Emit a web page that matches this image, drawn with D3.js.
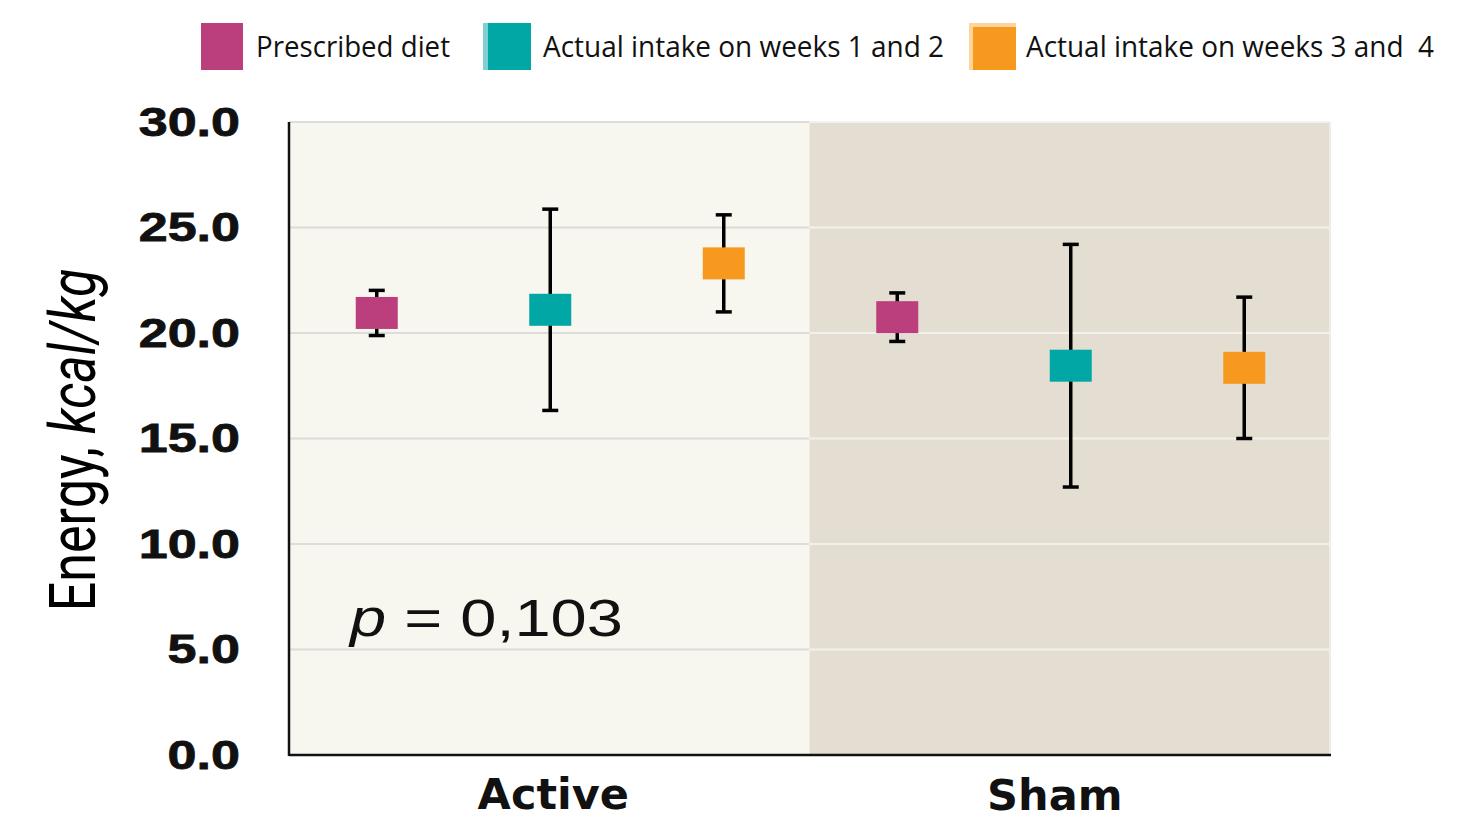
<!DOCTYPE html>
<html>
<head>
<meta charset="utf-8">
<script src="https://cdn.jsdelivr.net/npm/d3@7"></script>
<style>
  body { margin: 0; background: #fff; }
  svg { display: block; }
</style>
</head>
<body>
<div id="chart"></div>
<script>
// data
var groups = ["Active", "Sham"];
var series = ["Prescribed diet", "Actual intake on weeks 1 and 2", "Actual intake on weeks 3 and  4"];
var seriesColors = ["#BA3F7C", "#00A7A5", "#F7991F"];
var activeMeans = [20.95, 21.1, 23.3];
var activeErrors = [1.07, 4.77, 2.3];
var shamMeans = [20.75, 18.45, 18.35];
var shamErrors = [1.15, 5.75, 3.35];
var yTicks = [0, 5, 10, 15, 20, 25, 30];
var pLabel = "0,103";

var svgWidth = 1464;
var svgHeight = 820;

var margin = { top: 122, right: 134, bottom: 65, left: 289 };
var width = svgWidth - margin.left - margin.right;
var height = svgHeight - margin.top - margin.bottom;

var svg = d3.select("#chart")
  .append("svg")
  .attr("width", svgWidth)
  .attr("height", svgHeight);

var chartGroup = svg.append("g")
  .attr("transform", `translate(${margin.left}, ${margin.top})`);

// scales
var yScale = d3.scaleLinear().domain([0, 30]).range([height, 0]);
var x0 = d3.scaleBand().domain(groups).range([0, width]);
var x1 = d3.scalePoint().domain(series).range([0, x0.bandwidth()]).padding(0.5);

var points = [];
groups.forEach(function(g, gi) {
  var means = gi === 0 ? activeMeans : shamMeans;
  var errs = gi === 0 ? activeErrors : shamErrors;
  series.forEach(function(s, si) {
    points.push({ group: g, series: s, mean: means[si], err: errs[si], color: seriesColors[si] });
  });
});

// panel backgrounds
var panelFill = { Active: "#F7F6EF", Sham: "#E4DED2" };
var gridColor = { Active: "#DCDCDA", Sham: "#F3F1EB" };

chartGroup.selectAll(".panel")
  .data(groups)
  .enter()
  .append("rect")
  .attr("x", d => x0(d))
  .attr("y", 0)
  .attr("width", x0.bandwidth())
  .attr("height", height)
  .attr("fill", d => panelFill[d]);

// gridlines per panel
groups.forEach(function(g) {
  chartGroup.selectAll(".grid-" + g)
    .data(yTicks.filter(t => t > 0))
    .enter()
    .append("line")
    .attr("x1", x0(g))
    .attr("x2", x0(g) + x0.bandwidth())
    .attr("y1", d => yScale(d))
    .attr("y2", d => yScale(d))
    .attr("stroke", gridColor[g])
    .attr("stroke-width", 2);
});

// light right edge
chartGroup.append("line")
  .attr("x1", width).attr("x2", width)
  .attr("y1", 0).attr("y2", height)
  .attr("stroke", "#F0EDE6")
  .attr("stroke-width", 2);

// y axis
var leftAxis = d3.axisLeft(yScale)
  .tickValues(yTicks)
  .tickSize(0)
  .tickFormat(d3.format(".1f"));

var yAxis = chartGroup.append("g").call(leftAxis);
yAxis.select(".domain").remove();
yAxis.selectAll("text")
  .attr("x", -49 / 1.27)
  .attr("transform", "scale(1.27,1)")
  .attr("font-family", "Liberation Sans, Arial, sans-serif")
  .attr("font-weight", "bold")
  .attr("font-size", "41px")
  .attr("stroke", "#111")
  .attr("stroke-width", 0.8)
  .attr("fill", "#111");

// axis lines
chartGroup.append("line")
  .attr("x1", 0).attr("x2", 0)
  .attr("y1", 0).attr("y2", height + 1)
  .attr("stroke", "#111")
  .attr("stroke-width", 2.5);
chartGroup.append("line")
  .attr("x1", 0).attr("x2", width + 1)
  .attr("y1", height).attr("y2", height)
  .attr("stroke", "#111")
  .attr("stroke-width", 2.5);

// error bars
var capHalf = 8;
var bars = chartGroup.selectAll(".err")
  .data(points)
  .enter()
  .append("g")
  .attr("transform", d => `translate(${x0(d.group) + x1(d.series) + 1}, 0)`);

bars.append("line")
  .attr("x1", 0).attr("x2", 0)
  .attr("y1", d => yScale(d.mean + d.err))
  .attr("y2", d => yScale(d.mean - d.err))
  .attr("stroke", "#000")
  .attr("stroke-width", 3.5);

bars.append("line")
  .attr("x1", -capHalf).attr("x2", capHalf)
  .attr("y1", d => yScale(d.mean + d.err))
  .attr("y2", d => yScale(d.mean + d.err))
  .attr("stroke", "#000")
  .attr("stroke-width", 3.5);

bars.append("line")
  .attr("x1", -capHalf).attr("x2", capHalf)
  .attr("y1", d => yScale(d.mean - d.err))
  .attr("y2", d => yScale(d.mean - d.err))
  .attr("stroke", "#000")
  .attr("stroke-width", 3.5);

// mean markers
bars.append("rect")
  .attr("x", -21)
  .attr("y", d => yScale(d.mean) - 16)
  .attr("width", 42)
  .attr("height", 32)
  .attr("fill", d => d.color);

// group labels (kept just inside the bottom edge)
var labelShift = { Active: 4, Sham: -15 };
var labelBase = { Active: 54, Sham: 55 };
chartGroup.selectAll(".groupLabel")
  .data(groups)
  .enter()
  .append("text")
  .attr("x", d => x0(d) + x0.bandwidth() / 2 + labelShift[d])
  .attr("y", d => height + labelBase[d])
  .attr("text-anchor", "middle")
  .attr("font-family", "DejaVu Sans, sans-serif")
  .attr("font-weight", "bold")
  .attr("font-size", "43px")
  .attr("fill", "#111")
  .text(d => d);

// p value
var pText = chartGroup.append("text")
  .attr("transform", `translate(${350 - margin.left}, ${636 - margin.top}) scale(1.25,1)`)
  .attr("font-family", "Liberation Sans, Arial, sans-serif")
  .attr("font-size", "52px")
  .attr("fill", "#111");
pText.append("tspan").attr("font-style", "italic").text("p");
pText.append("tspan").text(" = " + pLabel);

// y axis title
var yTitle = svg.append("text")
  .attr("transform", "translate(95, 440) rotate(-90) scale(1,1.25)")
  .attr("text-anchor", "middle")
  .attr("font-family", "Roboto, Liberation Sans, sans-serif")
  .attr("font-size", "52px")
  .attr("fill", "#000");
yTitle.append("tspan").text("Energy, ");
yTitle.append("tspan").attr("font-style", "italic").text("kcal/kg");

// legend
var legendX = [201, 483, 969];
var legendTextLen = [194, 401, 408];
var legend = svg.selectAll(".legend")
  .data(series)
  .enter()
  .append("g")
  .attr("transform", (d, i) => `translate(${legendX[i]}, 23)`);

legend.append("rect")
  .attr("x", 0).attr("y", 0)
  .attr("width", (d, i) => i === 0 ? 42 : (i === 1 ? 48 : 47))
  .attr("height", 47)
  .attr("fill", (d, i) => i === 0 ? seriesColors[0] : (i === 1 ? "#7FD0CF" : "#FDD49C"));

legend.filter((d, i) => i > 0)
  .append("rect")
  .attr("x", (d, i) => i === 0 ? 5 : 4)
  .attr("y", (d, i) => i === 0 ? 0 : 4)
  .attr("width", 43)
  .attr("height", (d, i) => i === 0 ? 47 : 43)
  .attr("fill", (d, i) => seriesColors[i + 1]);

legend.append("text")
  .attr("x", (d, i) => i === 0 ? 55 : (i === 1 ? 60 : 57))
  .attr("y", 34)
  .attr("font-family", "Open Sans, Noto Sans, sans-serif")
  .attr("font-size", "29px")
  .attr("fill", "#111")
  .attr("textLength", (d, i) => legendTextLen[i])
  .attr("lengthAdjust", "spacingAndGlyphs")
  .style("white-space", "pre")
  .text(d => d);
</script>
</body>
</html>
